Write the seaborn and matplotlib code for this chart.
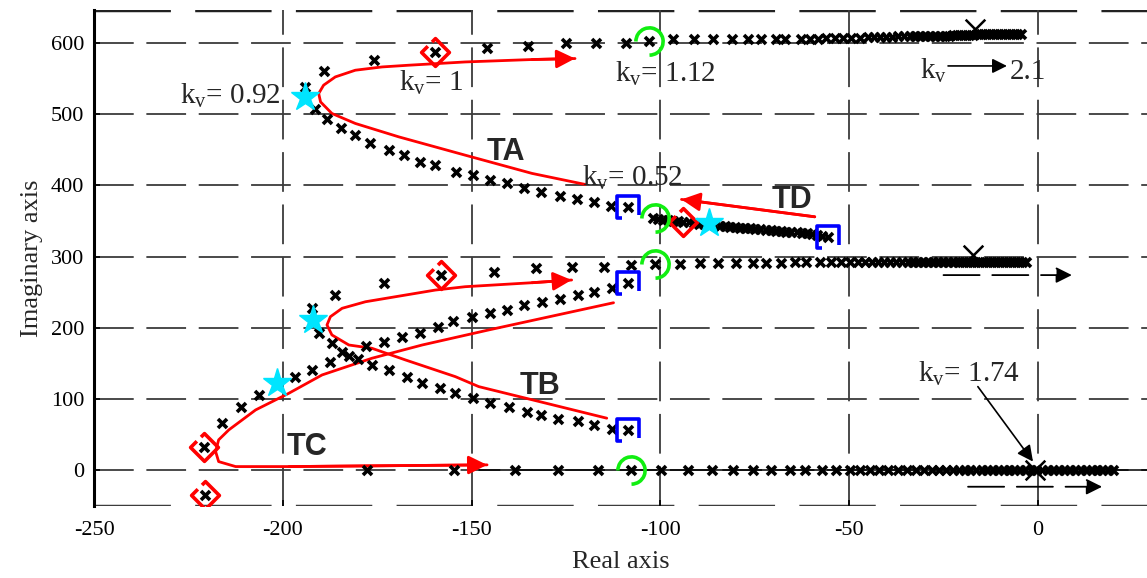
import numpy as np
import matplotlib
matplotlib.use("Agg")
import matplotlib.pyplot as plt
from matplotlib.path import Path
import seaborn as sns

# ---- root locus points ----
# TA branch: upper row (y ~ 600)
ta_top_x = [-194, -189, -175.9, -159.6, -146, -135, -125, -117, -109, -103, -96.6, -91, -86, -81,
            -76.7, -73.3, -69.3, -66.9, -62.7, -60.3, -58.2, -56.1, -53.7, -51.6, -49.5, -47.1,
            -45, -43.4, -41.8, -40.2, -38.6, -37, -35.4, -33.9, -32.5, -31.2, -29.9, -28.6, -27.2,
            -25.9, -24.6, -23.5, -22.5, -21.4, -20.4, -19.3, -18.3, -17.2, -16.1, -15.1, -14, -13,
            -11.9, -10.8, -9.8, -8.7, -7.7, -6.6, -5.6, -4.5]
ta_top_y = [538, 560.5, 575.5, 587, 592, 596, 599, 600, 600, 602, 605, 605, 605, 605,
            605, 605, 605, 606, 606, 606, 606, 607, 607, 607, 607, 607,
            608, 608, 608, 608, 608, 609, 609, 609, 609, 609, 610, 610, 610,
            610, 610, 610, 611, 611, 611, 611, 611, 611, 612, 612, 612, 612,
            612, 612, 613, 613, 613, 613, 613, 613]

# TA branch: lower part going to the TD cluster
ta_low_x = [-194, -191.6, -188.3, -184.7, -180.8, -176.8, -172, -168, -163.6, -159.6, -154.2, -149.7,
            -145, -140.5, -136.2, -131.5, -126.5, -122.2, -117.5, -113, -108.7,
            -102, -100.6, -99.3, -98, -96.6, -95.2, -93.9, -92.5, -91.1, -89.8, -88.4, -87.1,
            -85.7, -84.3, -83, -81.6, -80.2, -78.9, -77.5, -76.2, -74.8, -73.5, -72.1, -70.7,
            -69.4, -68, -66.6, -65.3, -63.9, -62.6, -61.2, -59.8, -58.5, -57.1, -55.6]
ta_low_y = [524, 506.4, 492.4, 480.6, 470.4, 458.7, 449.3, 442.3, 433, 428.3, 418.5, 414.3,
            407.3, 403.1, 396.1, 390.5, 384.9, 380.7, 376.4, 370.8, 369.4,
            354, 353, 352, 351.5, 350.5, 349.5, 348.8, 348, 347, 346, 345.5, 345,
            344, 343.5, 342.5, 342, 341.5, 340.5, 340, 339.5, 339, 338, 337.5, 337,
            336.5, 336, 335, 334.5, 334, 333, 332.5, 331, 330, 329, 327.5]

# TB branch: from (-108, 57) up to the middle row (y ~ 290)
tb_x = [-108.5, -112.9, -117.7, -121.9, -127, -131.6, -135.4, -140.2, -145.1, -149.5, -154.3,
        -158.3, -163.1, -167.1, -171.9, -176.4, -180.1, -184.3, -187.1, -190.5, -192.1,
        -192.4, -186.3, -173.3, -158, -144, -133, -123.5, -115, -107.7, -101.3,
        -94.7, -89.4, -84.7, -79.9, -75.4, -72, -68, -64.3, -61.4, -57.7, -54.8, -52.1,
        -49.7, -47.6, -45.8, -43.9, -42.3, -40.7, -39.2, -37.6, -36, -34.4, -33.1, -31.7,
        -30.4, -29.1, -27.8, -26.5, -25.1, -23.8, -22.5, -21.2, -20.1, -19, -18, -16.9,
        -15.9, -14.8, -13.8, -12.7, -11.6, -10.6, -9.5, -8.5, -7.4, -6.3, -5.3, -4.2, -3.2]
tb_y = [56.8, 58.2, 63.8, 69.8, 71.8, 77.8, 82.4, 89.4, 94.2, 101.2, 109.1,
        115.2, 123.1, 130.7, 140.9, 147.9, 155.9, 166.5, 178.3, 192.3, 211,
        227.4, 246, 262.4, 274, 278, 284, 285, 285, 288, 289,
        290, 291, 291, 291, 291, 291.5, 291.5, 292, 292, 292, 292, 292,
        292, 292, 292, 292, 292, 292, 292, 292.5, 292.5, 292.5, 292.5, 292.5,
        292.5, 292.5, 292.5, 292.5, 292.5, 292.5, 293, 293, 293, 293, 293, 293,
        293, 293, 293, 293, 293, 293, 293, 293, 293, 293, 293, 293, 293]

# TC branch: from (-221, 33) up to (-108, 262)
tc_x = [-220.9, -216, -211.2, -206.3, -201.5, -196.9, -192.2, -187.4, -182.5, -178.1, -173.3,
        -168.4, -163.6, -158.9, -154.8, -149.9, -145.2, -140.7, -136, -131.4, -126.7,
        -121.9, -117.7, -112.9, -108.6]
tc_y = [33.4, 66.2, 89.4, 105.8, 123.1, 131.5, 140.9, 152.5, 160.5, 174.5, 180.6,
        186.7, 193.2, 201.6, 210, 215.6, 220.4, 225, 232, 236.6, 240.4,
        246, 250.7, 255.4, 262.4]

# real axis branch (y = 0) and its mirror pole
re_x = [-220.6, -177.7, -154.6, -138.6, -127, -116.6, -107.8, -99.8, -92.8, -86.4, -80.7, -75.4,
        -70.6, -65.7, -61.7, -57.3, -53.4, -49.8, -47.2, -44.5, -42, -39.6, -37.1, -34.7,
        -32.3, -30.2, -28.1, -26.2, -24.3, -22.6, -21, -19.4, -17.9, -16.4, -14.9, -13.5,
        -12, -10.6, -9.1, -7.6, -6.2, -4.7, -3.3, -1.8, -0.4, 1.1, 2.6, 4, 5.5, 7, 8.4,
        9.9, 11.3, 12.8, 14.2, 15.7, 17.1, 18.6, 20]
re_y = [-34.4, 0, 0, 0, 0, 0, 0, 0, 0, 0, 0, 0,
        0, 0, 0, 0, 0, 0, 0, 0, 0, 0, 0, 0,
        0, 0, 0, 0, 0, 0, 0, 0, 0, 0, 0, 0,
        0, 0, 0, 0, 0, 0, 0, 0, 0, 0, 0, 0, 0, 0, 0,
        0, 0, 0, 0, 0, 0, 0, 0]

# special points
pole_x = [-16.7, -17.2, -0.8]
pole_y = [619, 302, 0]
diamond_x = [-159.6, -158, -94, -220.9, -220.6]
diamond_y = [587, 274, 348, 33.4, -34.4]
circle_x = [-103, -101.5, -101.3, -107.8]
circle_y = [602, 354, 290, 0]
square_x = [-108.7, -55.6, -108.6, -108.5]
square_y = [369.4, 327.5, 262.4, 56.8]
star_x = [-194, -87, -192.1, -201.5]
star_y = [524, 346.5, 211, 123.1]

# red trajectory sketches
ta_path_x = [-119.9, -134, -151.7, -169.3, -180.8, -187, -190, -190.5, -189.2, -186.1, -180.8,
             -173.7, -166.7, -151.7, -134, -122.6]
ta_path_y = [401.2, 416.7, 442.3, 468, 486.8, 500.8, 517, 528.8, 540.5, 552.1, 561.5,
             566.1, 568.5, 573.1, 576.5, 577.9]
tb_path_x = [-114.2, -148.1, -154.3, -167.5, -176.4, -182.5, -187, -188.3, -187.4, -184.3,
             -178.1, -167.5, -159.6, -151.7, -134, -123.5]
tb_path_y = [73.2, 117.5, 131.5, 154.9, 171.3, 175.9, 190, 204, 215.6, 227.4,
             236.6, 246, 253, 257.7, 263.3, 267.1]
tc_path_x = [-112.4, -145.5, -163.1, -176.4, -189.6, -198.4, -207.2, -214.3, -217, -217.8,
             -217, -212.5, -198.4, -145.9]
tc_path_y = [235.2, 197, 175.9, 157.3, 133.9, 108.2, 84.8, 56.8, 42.8, 26.4,
             12.3, 5.3, 5.3, 7.7]
td_path_x = [-59.1, -94.4]
td_path_y = [355.8, 380.2]

sns.set_style("white")
plt.rcParams["font.family"] = ["Liberation Serif", "DejaVu Serif"]
plt.rcParams["mathtext.fontset"] = "custom"
plt.rcParams["mathtext.rm"] = "Liberation Serif"
plt.rcParams["axes.unicode_minus"] = False

fig = plt.figure(figsize=(11.47, 5.78), dpi=100)
ax = fig.add_axes([0.082, 0.1246, 0.918, 0.8581])

grid_ls = (0, (22, 7))
ax.set_xlim(-250, 28.9)
ax.set_ylim(-50, 646)
ax.set_xticks([-250, -200, -150, -100, -50, 0])
ax.set_yticks([0, 100, 200, 300, 400, 500, 600])
ax.grid(True, color="#3c3c3c", linestyle=grid_ls, linewidth=1.3)
ax.axhline(-50, color="#3c3c3c", linestyle=grid_ls, linewidth=2.5, zorder=0.5)
ax.axhline(646, color="#222222", linestyle=grid_ls, linewidth=2.5, zorder=0.5)
# solid real-axis line under the right part of the real branch
ax.plot([-148, 28.9], [0, 0], color="black", lw=1.1, zorder=1)
for s in ["top", "bottom", "right"]:
    ax.spines[s].set_visible(False)
ax.spines["left"].set_linewidth(2.2)
ax.spines["left"].set_color("black")
ax.tick_params(direction="in", length=4, width=1.2, labelsize=16, colors="black",
               left=True, bottom=True)
ax.tick_params(axis="x", pad=11)
ax.tick_params(axis="y", pad=7)

# red sketches
red = "#ff0000"
for px, py in [(ta_path_x, ta_path_y), (tb_path_x, tb_path_y), (tc_path_x, tc_path_y), (td_path_x, td_path_y)]:
    ax.plot(px, py, color=red, lw=2, zorder=2)
    ax.annotate("", xy=(px[-1], py[-1]), xytext=(px[-2], py[-2]),
                arrowprops=dict(arrowstyle="-|>", color=red, lw=2, mutation_scale=28,
                                shrinkA=0, shrinkB=0), zorder=2)

# root locus points
for bx, by in [(ta_top_x, ta_top_y), (ta_low_x, ta_low_y), (tb_x, tb_y), (tc_x, tc_y), (re_x, re_y)]:
    sns.scatterplot(x=bx, y=by, marker="x", color="black", s=42, linewidth=2.6, ax=ax, zorder=3)
sns.scatterplot(x=pole_x, y=pole_y, marker="x", color="black", s=200, linewidth=1.8, ax=ax, zorder=3)

# special markers
diamond = Path([(-0.55, 0.45), (-1, 0), (0, -1), (1, 0), (0, 1), (-0.25, 0.75)])
arc = Path.arc(-90, 180)
bracket = Path([(-0.55, -1), (-1, -1), (-1, 1), (1, 1), (1, -0.7)])
ax.plot(diamond_x, diamond_y, ls="none", marker=diamond, ms=20, mfc="none", mec="#ff0000", mew=2.6, zorder=4)
ax.plot(circle_x, circle_y, ls="none", marker=arc, ms=20, mfc="none", mec="#11ee11", mew=2.6, zorder=4)
ax.plot(square_x, square_y, ls="none", marker=bracket, ms=16, mfc="none", mec="#0000ff", mew=2.6, zorder=4)
ax.plot(star_x, star_y, ls="none", marker="*", ms=21, mfc="#00e5ff", mec="#00e5ff", zorder=4)

# labels
tfs = 21
ax.text(-227.2, 515, r"k$_\mathregular{v}$= 0.92", fontsize=tfs, va="baseline")
ax.text(-169.3, 533.4, r"k$_\mathregular{v}$= 1", fontsize=tfs, va="baseline")
ax.text(-112.1, 546, r"k$_\mathregular{v}$= 1.12", fontsize=tfs, va="baseline")
ax.text(-120.8, 400.2, r"k$_\mathregular{v}$= 0.52", fontsize=tfs, va="baseline", zorder=5)
ax.text(-31.8, 124.5, r"k$_\mathregular{v}$= 1.74", fontsize=tfs, va="baseline")
ax.text(-31.3, 549.8, r"k$_\mathregular{v}$", fontsize=tfs, va="baseline")
ax.text(-7.4, 549.8, "2.1", fontsize=tfs, va="baseline")
ax.annotate("", xy=(-8.2, 567.5), xytext=(-23.8, 567.5),
            arrowprops=dict(arrowstyle="-|>", color="black", lw=1.2, mutation_scale=22,
                            shrinkA=0, shrinkB=0))
ax.annotate("", xy=(-1.3, 12.3), xytext=(-15.9, 117.5),
            arrowprops=dict(arrowstyle="-|>", color="black", lw=1.2, mutation_scale=24,
                            shrinkA=0, shrinkB=0))
for yy, x0, x1 in [(274, -25, 9), (-23, -18.5, 17)]:
    ax.annotate("", xy=(x1, yy), xytext=(x0, yy),
                arrowprops=dict(arrowstyle="-|>", color="black", lw=1.3, mutation_scale=24,
                                linestyle=(0, (20, 7)), shrinkA=0, shrinkB=0))

bold = dict(fontsize=22, fontweight="bold", family=["Liberation Sans", "DejaVu Sans"], va="baseline")
ax.text(-145.9, 435.3, "TA", **bold)
ax.text(-70.5, 367.6, "TD", **bold)
ax.text(-137.4, 107.2, "TB", **bold)
ax.text(-199.0, 21.7, "TC", **bold)

ax.set_xlabel("Real axis", fontsize=19, labelpad=8)
ax.set_ylabel("Imaginary axis", fontsize=19, labelpad=6)

fig.savefig("out.png", dpi=100)
